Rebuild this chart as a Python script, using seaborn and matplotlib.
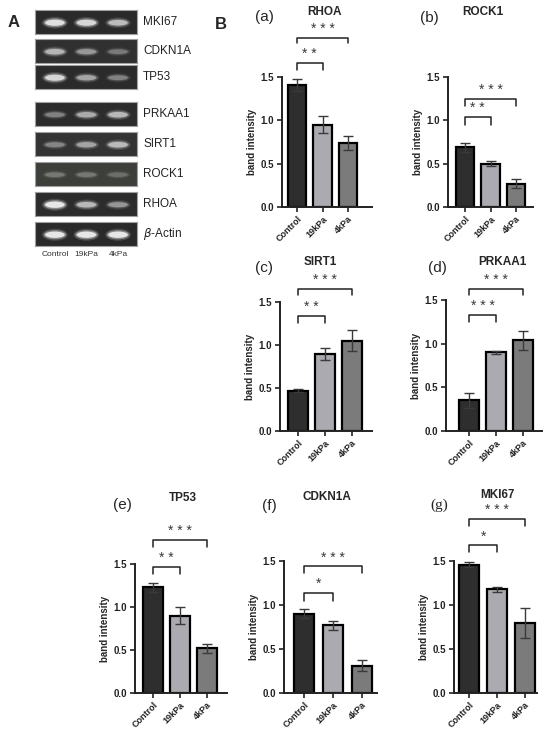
import numpy as np
import pandas as pd
import matplotlib
matplotlib.use('Agg')
import matplotlib.pyplot as plt
from matplotlib.patches import Ellipse
import seaborn as sns

# gel band brightness (0 = no band, 1 = saturated)
gel_genes = ['MKI67', 'CDKN1A', 'TP53', 'PRKAA1', 'SIRT1', 'ROCK1', 'RHOA', r'$\beta$-Actin']
gel_control = [0.95, 0.70, 0.90, 0.45, 0.45, 0.35, 1.00, 1.00]
gel_19kpa = [0.90, 0.55, 0.62, 0.65, 0.60, 0.35, 0.72, 1.00]
gel_4kpa = [0.75, 0.40, 0.45, 0.72, 0.72, 0.30, 0.55, 1.00]

groups = ['Control', '19kPa', '4kPa']

# bar heights and error bars for panel B
rhoa_mean = [1.41, 0.95, 0.74]
rhoa_err = [0.07, 0.10, 0.08]
rock1_mean = [0.69, 0.50, 0.27]
rock1_err = [0.05, 0.03, 0.05]
sirt1_mean = [0.47, 0.89, 1.05]
sirt1_err = [0.02, 0.07, 0.12]
prkaa1_mean = [0.35, 0.90, 1.04]
prkaa1_err = [0.09, 0.02, 0.11]
tp53_mean = [1.23, 0.90, 0.52]
tp53_err = [0.05, 0.10, 0.05]
cdkn1a_mean = [0.90, 0.77, 0.31]
cdkn1a_err = [0.05, 0.05, 0.06]
mki67_mean = [1.46, 1.18, 0.80]
mki67_err = [0.03, 0.03, 0.17]

# significance labels: Control vs 19kPa, Control vs 4kPa
rhoa_sig = ['* *', '* * *']
rock1_sig = ['* *', '* * *']
sirt1_sig = ['* *', '* * *']
prkaa1_sig = ['* * *', '* * *']
tp53_sig = ['* *', '* * *']
cdkn1a_sig = ['*', '* * *']
mki67_sig = ['*', '* * *']

sns.set_style('ticks')
plt.rcParams['font.family'] = ['Liberation Sans', 'DejaVu Sans']
plt.rcParams['mathtext.fontset'] = 'dejavusans'

W, H = 550, 733
fig = plt.figure(figsize=(W / 100, H / 100), dpi=100)


def rect(l, t, r, b):
    return [l / W, 1 - b / H, (r - l) / W, (b - t) / H]


def px(x, y):
    return x / W, 1 - y / H


# ---------- panel A: gel strips ----------
fig.text(*px(8, 27), 'A', fontsize=12, fontweight='bold')
strip_tops = [10, 39, 65, 102, 132, 162, 192, 222]
strip_h = 24
strip_bg = ['#2a2a2a', '#303030', '#2b2b2b', '#2c2c2c', '#333333', '#3c3f3a', '#2c2c2c', '#2a2a2a']
gel = pd.DataFrame({'gene': gel_genes, 'Control': gel_control,
                    '19kPa': gel_19kpa, '4kPa': gel_4kpa})

for i, row in gel.iterrows():
    top = strip_tops[i]
    ax = fig.add_axes(rect(35, top, 137, top + strip_h))
    ax.set_facecolor(strip_bg[i])
    ax.set_xlim(-0.63, 2.6)
    ax.set_ylim(0, 1)
    ax.set_xticks([])
    ax.set_yticks([])
    for s in ax.spines.values():
        s.set_color('#a0a0a0')
        s.set_linewidth(0.8)
    for j, g in enumerate(groups):
        v = row[g]
        # soft glow then core band
        for w, h, a in [(0.82, 0.42, 0.15), (0.72, 0.32, 0.35), (0.62, 0.22, 0.8)]:
            ax.add_patch(Ellipse((j, 0.47), w, h * (0.7 + 0.5 * v),
                                 color='white', alpha=a * v ** 1.3, lw=0))
    ax.text(1.06, 0.5, row['gene'], transform=ax.transAxes, va='center',
            ha='left', fontsize=8.5, color='#222222')

for lx, g in zip([55, 86, 118], groups):
    fig.text(*px(lx, 255), g, fontsize=6, ha='center', va='center', color='#333333')

# ---------- panel B: bar charts ----------
fig.text(*px(215, 29), 'B', fontsize=12, fontweight='bold')

panels = [
    dict(gene='RHOA', tag='(a)', m=rhoa_mean, e=rhoa_err, sig=rhoa_sig,
         r=(282, 77, 372, 207), xl=(-0.59, 2.94), br=[(1.66, 1.58), (1.95, 1.89)],
         title=(325, 12), lab=(255, 17)),
    dict(gene='ROCK1', tag='(b)', m=rock1_mean, e=rock1_err, sig=rock1_sig,
         r=(448, 77, 533, 207), xl=(-0.67, 2.67), br=[(1.04, 0.95), (1.25, 1.16)],
         title=(483, 12), lab=(420, 18)),
    dict(gene='SIRT1', tag='(c)', m=sirt1_mean, e=sirt1_err, sig=sirt1_sig,
         r=(280, 302, 372, 431), xl=(-0.67, 2.74), br=[(1.34, 1.26), (1.65, 1.58)],
         title=(320, 262), lab=(255, 268)),
    dict(gene='PRKAA1', tag='(d)', m=prkaa1_mean, e=prkaa1_err, sig=prkaa1_sig,
         r=(446, 300, 542, 431), xl=(-0.85, 2.7), br=[(1.33, 1.25), (1.63, 1.56)],
         title=(502, 262), lab=(428, 268)),
    dict(gene='TP53', tag='(e)', m=tp53_mean, e=tp53_err, sig=tp53_sig,
         r=(135, 564, 227, 693), xl=(-0.67, 2.74), br=[(1.47, 1.38), (1.78, 1.70)],
         title=(183, 498), lab=(113, 505)),
    dict(gene='CDKN1A', tag='(f)', m=cdkn1a_mean, e=cdkn1a_err, sig=cdkn1a_sig,
         r=(284, 561, 377, 693), xl=(-0.69, 2.52), br=[(1.14, 1.05), (1.44, 1.36)],
         title=(327, 497), lab=(262, 506)),
    dict(gene='MKI67', tag='(g)', m=mki67_mean, e=mki67_err, sig=mki67_sig,
         r=(454, 561, 537, 693), xl=(-0.54, 2.43), br=[(1.68, 1.60), (1.98, 1.90)],
         title=(497, 495), lab=(430, 505)),
]

bar_colors = ['#2e2e2e', '#a9a9b1', '#7b7b7b']

for p in panels:
    ax = fig.add_axes(rect(*p['r']))
    df = pd.DataFrame({'group': groups, 'value': p['m']})
    sns.barplot(data=df, x='group', y='value', hue='group', palette=bar_colors,
                width=0.72, edgecolor='black', linewidth=1.6, legend=False,
                errorbar=None, ax=ax)
    ax.errorbar(range(3), p['m'], yerr=p['e'], fmt='none', ecolor='#3a3a3a',
                elinewidth=1.0, capsize=3.5, capthick=1.0)
    ax.set_ylim(0, 1.5)
    ax.set_xlim(*p['xl'])
    ax.set_yticks([0, 0.5, 1.0, 1.5])
    ax.set_yticklabels(['0.0', '0.5', '1.0', '1.5'], fontsize=7, fontweight='bold')
    ax.set_xticks(range(3))
    ax.set_xticklabels(groups, rotation=45, ha='right', rotation_mode='anchor',
                       fontsize=6.5, fontweight='bold')
    ax.set_xlabel('')
    ax.set_ylabel('band intensity', fontsize=7, fontweight='bold', labelpad=3)
    sns.despine(ax=ax)
    for s in ['left', 'bottom']:
        ax.spines[s].set_linewidth(1.4)
        ax.spines[s].set_color('#222222')
    ax.tick_params(width=1.2, length=3.5, pad=2, colors='#222222')

    for (y_line, y_tip), x2, lbl in zip(p['br'], [1, 2], p['sig']):
        ax.plot([0, 0, x2, x2], [y_tip, y_line, y_line, y_tip], color='#222222',
                lw=1.1, clip_on=False)
        ax.text(x2 / 2, y_line + 0.02, lbl, ha='center', va='bottom', fontsize=10,
                color='#3a3a3a', clip_on=False)

    fig.text(*px(*p['title']), p['gene'], fontsize=8.5, fontweight='bold',
             ha='center', va='center')
    tag_family = ['Liberation Serif'] if p['tag'] == '(g)' else ['Liberation Sans', 'DejaVu Sans']
    fig.text(*px(*p['lab']), p['tag'], fontsize=11, ha='left', va='center',
             family=tag_family)

fig.savefig('out.png', dpi=100)
